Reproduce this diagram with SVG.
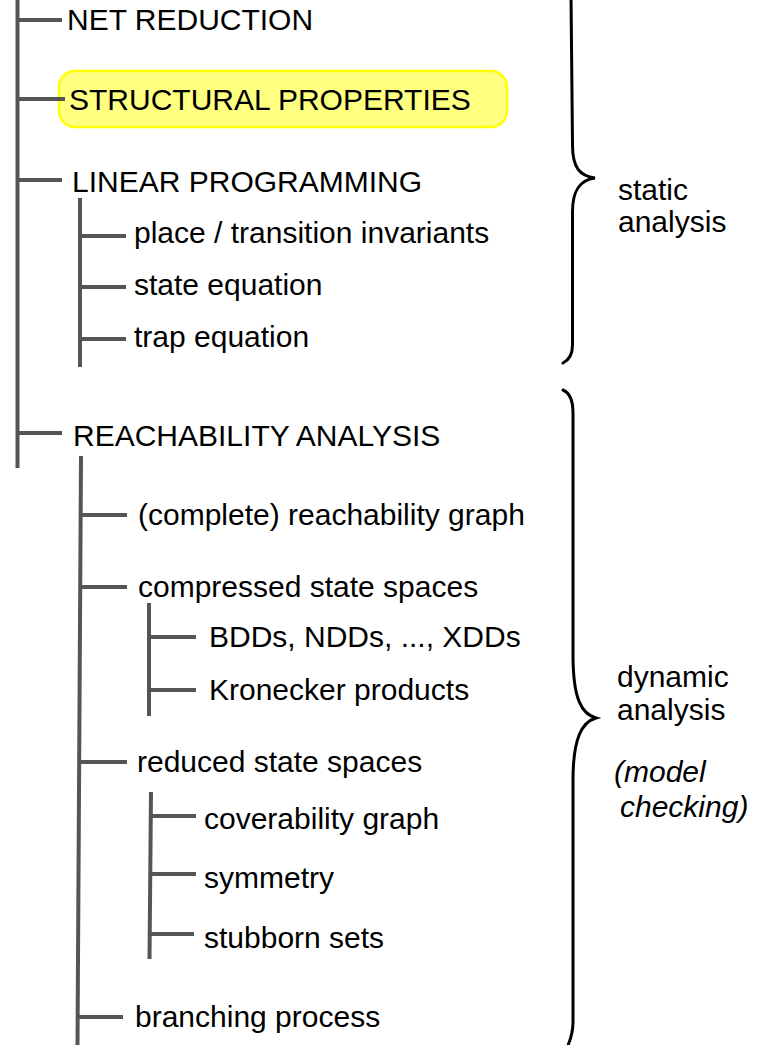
<svg xmlns="http://www.w3.org/2000/svg" width="764" height="1045" viewBox="0 0 764 1045">
  <style>
    .tree { stroke: #555555; stroke-width: 4; fill: none; stroke-linecap: butt; }
    .brace { stroke: #000000; stroke-width: 3; fill: none; stroke-linecap: round; }
    text { font-family: "Liberation Sans", Arial, sans-serif; font-size: 30px; fill: #000000; }
    .note { font-style: italic; }
    .hl { fill: #ffff80; stroke: #ffff00; stroke-width: 2.5; }
  </style>
  <rect width="764" height="1045" fill="#ffffff"/>

  <!-- highlight behind the structural-properties entry -->
  <rect class="hl" x="59" y="71" width="448" height="56" rx="16" ry="16"/>

  <!-- tree connectors -->
  <g id="connectors">
    <!-- main trunk -->
    <line class="tree" x1="17.5" y1="0" x2="17.5" y2="468"/>
    <line class="tree" x1="17.5" y1="20" x2="62" y2="20"/>
    <line class="tree" x1="19" y1="99" x2="65" y2="99"/>
    <line class="tree" x1="17.5" y1="180" x2="62" y2="180"/>
    <line class="tree" x1="17.5" y1="433" x2="62" y2="433"/>

    <!-- linear programming branch -->
    <line class="tree" x1="80" y1="198" x2="80" y2="367"/>
    <line class="tree" x1="80" y1="236" x2="126" y2="236"/>
    <line class="tree" x1="80" y1="287" x2="126" y2="287"/>
    <line class="tree" x1="80" y1="339" x2="126" y2="339"/>

    <!-- reachability analysis branch -->
    <line class="tree" x1="81" y1="456" x2="77.5" y2="1045"/>
    <line class="tree" x1="80" y1="515" x2="127" y2="515"/>
    <line class="tree" x1="80" y1="587" x2="127" y2="587"/>
    <line class="tree" x1="79" y1="762" x2="127" y2="762"/>
    <line class="tree" x1="78" y1="1017" x2="123" y2="1017"/>

    <!-- compressed state spaces -->
    <line class="tree" x1="149" y1="603" x2="149" y2="716"/>
    <line class="tree" x1="149" y1="637" x2="196" y2="637"/>
    <line class="tree" x1="149" y1="690" x2="196" y2="690"/>

    <!-- reduced state spaces -->
    <line class="tree" x1="151" y1="792" x2="149.5" y2="959"/>
    <line class="tree" x1="151" y1="816" x2="196" y2="816"/>
    <line class="tree" x1="150" y1="874" x2="196" y2="874"/>
    <line class="tree" x1="150" y1="934" x2="194" y2="934"/>
  </g>

  <!-- tree entries -->
  <g id="net-reduction"><text x="67" y="30">NET REDUCTION</text></g>
  <g id="structural-properties"><text x="69" y="110">STRUCTURAL PROPERTIES</text></g>
  <g id="linear-programming"><text x="72" y="192">LINEAR PROGRAMMING</text></g>
  <g id="invariants"><text x="134" y="243">place / transition invariants</text></g>
  <g id="state-equation"><text x="134" y="295">state equation</text></g>
  <g id="trap-equation"><text x="134" y="347">trap equation</text></g>
  <g id="reachability-analysis"><text x="73" y="446">REACHABILITY ANALYSIS</text></g>
  <g id="reachability-graph"><text x="138" y="525">(complete) reachability graph</text></g>
  <g id="compressed"><text x="138" y="597">compressed state spaces</text></g>
  <g id="dds"><text x="209" y="647">BDDs, NDDs, ..., XDDs</text></g>
  <g id="kronecker"><text x="209" y="700">Kronecker products</text></g>
  <g id="reduced"><text x="137" y="772">reduced state spaces</text></g>
  <g id="coverability"><text x="204" y="829">coverability graph</text></g>
  <g id="symmetry"><text x="204" y="888">symmetry</text></g>
  <g id="stubborn"><text x="204" y="948">stubborn sets</text></g>
  <g id="branching"><text x="135" y="1027">branching process</text></g>

  <!-- grouping braces -->
  <g id="static-brace">
    <path class="brace" d="M 571 -5 L 572.5 145 C 572.5 168, 580 176, 595 178 C 580 180, 572.5 190, 572.5 212 L 572.5 345 C 572.5 355, 569 360, 563 363"/>
    <text x="618" y="200">static</text>
    <text x="618" y="232">analysis</text>
  </g>
  <g id="dynamic-brace">
    <path class="brace" d="M 563 390 C 570 393, 573 400, 573 413 L 573 655 C 573 700, 582 714, 596 718 C 582 722, 573 738, 573 780 L 573 1022 C 573 1035, 570 1040, 567 1048"/>
    <text x="617" y="687">dynamic</text>
    <text x="617" y="720">analysis</text>
    <text class="note" x="614" y="782">(model</text>
    <text class="note" x="620" y="817">checking)</text>
  </g>
</svg>
